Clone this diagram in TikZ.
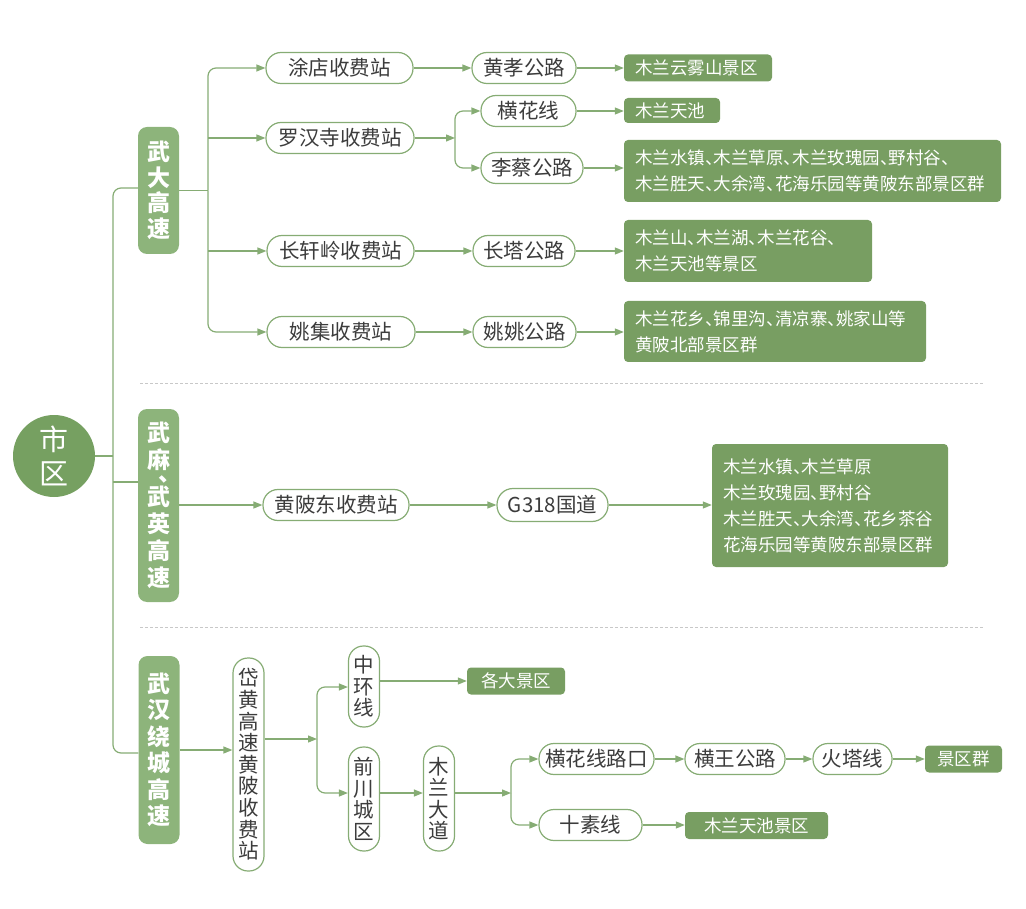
\documentclass[tikz,border=0pt]{standalone}
\usepackage{fontspec}
\setmainfont{Noto Sans CJK SC}[RawFeature=+halt]
\usetikzlibrary{arrows.meta}
\definecolor{lg}{HTML}{86AC74}
\definecolor{boxg}{HTML}{789E62}
\definecolor{hwg}{HTML}{8DB47B}
\definecolor{circg}{HTML}{76A061}
\definecolor{tx}{HTML}{3C3C3C}
\definecolor{sepc}{HTML}{C8C8C8}
\begin{document}
\begin{tikzpicture}[x=1pt,y=-1pt,
  pill/.style={draw=lg, line width=1.2pt, fill=white, rounded corners=15pt, minimum height=31pt, inner sep=0pt, text=tx, font=\fontsize{20.5pt}{21.6pt}\selectfont},
  pillv/.style={pill, align=center, minimum width=31pt},
  gbox/.style={fill=boxg, rounded corners=4pt, text=white, inner xsep=11pt, inner ysep=0pt, font=\fontsize{17.5pt}{26pt}\selectfont, align=left},
  gboxc/.style={fill=boxg, rounded corners=4pt, text=white, inner sep=0pt, font=\fontsize{17.5pt}{26pt}\selectfont},
  hw/.style={fill=hwg, rounded corners=9pt, text=white, font=\bfseries\fontsize{23pt}{25.5pt}\selectfont, align=center, minimum width=41pt, inner sep=0pt},
  conn/.style={draw=lg, line width=1.2pt},
  arr/.style={conn, -{Triangle[length=9pt,width=7pt]}},
  sepline/.style={draw=sepc, line width=0.8pt, dash pattern=on 3pt off 2pt}
]
\useasboundingbox (0,0) rectangle (1026,909);

% separators
\draw[sepline] (140,383) -- (983,383);
\draw[sepline] (140,627) -- (983,627);

% root
\node[circle, fill=circg, minimum size=82pt, inner sep=0pt, text=white, font=\fontsize{29pt}{34pt}\selectfont, align=center] (city) at (54,456) {市\\区};

% highways
\node[hw, minimum height=127pt] (wuda) at (158.5,190.5) {武\\大\\高\\速};
\node[hw, minimum height=193pt, font=\bfseries\fontsize{23pt}{27pt}\selectfont] (wuma) at (158.5,505.5) {武\\麻\\[-14pt]\makebox[23pt][r]{、}\\[-3pt]武\\英\\高\\速};
\node[hw, minimum height=188pt, font=\bfseries\fontsize{23pt}{26.5pt}\selectfont] (wuhan) at (159,750) {武\\汉\\绕\\城\\高\\速};

% section 1
\node[pill, minimum width=147pt] (tudian) at (339.5,68) {涂店收费站};
\node[pill, minimum width=148pt] (luohan) at (340,138) {罗汉寺收费站};
\node[pill, minimum width=147pt] (changxuan) at (340.5,251) {长轩岭收费站};
\node[pill, minimum width=148pt] (yaoji) at (341,332) {姚集收费站};

\node[pill, minimum width=104pt] (huangxiao) at (524,68) {黄孝公路};
\node[pill, minimum width=95pt] (henghua) at (528.5,111) {横花线};
\node[pill, minimum width=102pt] (licai) at (532,168) {李蔡公路};
\node[pill, minimum width=102pt] (changta) at (524,251) {长塔公路};
\node[pill, minimum width=103pt] (yaoyao) at (524.5,332) {姚姚公路};

\node[gbox, text width=126pt, minimum height=27pt] (yunwu) at (698,68) {木兰云雾山景区};
\node[gbox, text width=74pt, minimum height=25pt] (tianchi) at (672,110.5) {木兰天池};
\node[gbox, text width=355pt, minimum height=62pt] (east1) at (812.5,171) {木兰水镇、木兰草原、木兰玫瑰园、野村谷、\\木兰胜天、大余湾、花海乐园等黄陂东部景区群};
\node[gbox, text width=226pt, minimum height=62pt] (mlshan) at (748,251) {木兰山、木兰湖、木兰花谷、\\木兰天池等景区};
\node[gbox, text width=280pt, minimum height=61pt] (north) at (775,331.5) {木兰花乡、锦里沟、清凉寨、姚家山等\\黄陂北部景区群};

% section 2
\node[pill, minimum width=146pt] (hpd) at (336,505) {黄陂东收费站};
\node[pill, minimum width=111pt, minimum height=33pt, rounded corners=16pt] (g318) at (552.5,505) {G318国道};
\node[gbox, text width=214pt, minimum height=123pt] (mid) at (830,505.5) {木兰水镇、木兰草原\\木兰玫瑰园、野村谷\\木兰胜天、大余湾、花乡茶谷\\花海乐园等黄陂东部景区群};

% section 3
\node[pillv, minimum height=213pt] (daihuang) at (248.5,764.5) {岱\\黄\\高\\速\\黄\\陂\\收\\费\\站};
\node[pillv, minimum height=81pt] (zhonghuan) at (364,686.5) {中\\环\\线};
\node[pillv, minimum height=104pt] (qianchuan) at (364,799) {前\\川\\城\\区};
\node[pillv, minimum height=105pt] (mulan) at (439,798.5) {木\\兰\\大\\道};
\node[gboxc, minimum width=98pt, minimum height=27pt] (gedajq) at (516,681) {各大景区};
\node[pill, minimum width=115pt] (hhxlk) at (596.5,759) {横花线路口};
\node[pill, minimum width=100pt] (hwgl) at (735,759) {横王公路};
\node[pill, minimum width=79pt] (hxt) at (852.5,759) {火塔线};
\node[gboxc, minimum width=77pt, minimum height=27pt] (jqq) at (963.5,759) {景区群};
\node[pill, minimum width=103pt] (shisu) at (590.5,825) {十素线};
\node[gboxc, minimum width=143pt, minimum height=27pt] (mltcjq) at (756.5,825.5) {木兰天池景区};

% trunk
\draw[conn, rounded corners=8pt] (wuda.west |- 0,188) -- (113,188) -- (113,753) -- (wuhan.west |- 0,753);
\draw[conn] (city.east) -- (113,456);
\draw[conn] (113,482) -- (wuma.west |- 0,482);

% section 1 connectors
\draw[conn] (wuda.east) -- (208,190.5);
\draw[arr, rounded corners=8pt] (208,190.5) |- (tudian.west);
\draw[arr, rounded corners=8pt] (208,190.5) |- (yaoji.west);
\draw[arr] (208,138) -- (luohan.west);
\draw[arr] (208,251) -- (changxuan.west);
\draw[arr] (tudian.east) -- (huangxiao.west);
\draw[arr] (huangxiao.east) -- (yunwu.west);
\draw[arr] (luohan.east) -- (455,138);
\draw[arr, rounded corners=8pt] (455,138) |- (henghua.west);
\draw[arr, rounded corners=8pt] (455,138) |- (licai.west);
\draw[arr] (henghua.east) -- (henghua.east -| tianchi.west);
\draw[arr] (licai.east) -- (licai.east -| east1.west);
\draw[arr] (changxuan.east) -- (changta.west);
\draw[arr] (changta.east) -- (changta.east -| mlshan.west);
\draw[arr] (yaoji.east) -- (yaoyao.west);
\draw[arr] (yaoyao.east) -- (yaoyao.east -| north.west);

% section 2 connectors
\draw[arr] (wuma.east |- hpd.west) -- (hpd.west);
\draw[arr] (hpd.east) -- (g318.west);
\draw[arr] (g318.east) -- (g318.east -| mid.west);

% section 3 connectors
\draw[arr] (wuhan.east |- 0,750) -- (daihuang.west |- 0,750);
\draw[arr] (daihuang.east |- 0,739) -- (317,739);
\draw[arr, rounded corners=8pt] (317,739) |- (zhonghuan.west |- 0,687);
\draw[arr, rounded corners=8pt] (317,739) |- (qianchuan.west |- 0,793);
\draw[arr] (zhonghuan.east |- 0,681) -- (gedajq.west);
\draw[arr] (qianchuan.east |- 0,793) -- (mulan.west |- 0,793);
\draw[arr] (mulan.east |- 0,793) -- (511,793);
\draw[arr, rounded corners=8pt] (511,793) |- (hhxlk.west);
\draw[arr, rounded corners=8pt] (511,793) |- (shisu.west);
\draw[arr] (hhxlk.east) -- (hwgl.west);
\draw[arr] (hwgl.east) -- (hxt.west);
\draw[arr] (hxt.east) -- (jqq.west);
\draw[arr] (shisu.east) -- (shisu.east -| mltcjq.west);
\end{tikzpicture}
\end{document}
